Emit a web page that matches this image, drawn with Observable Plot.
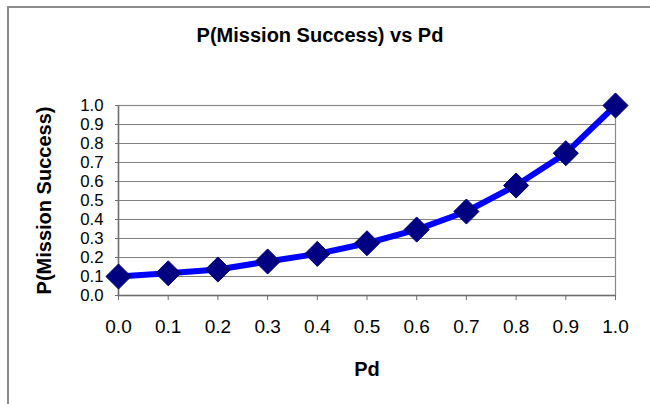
<!DOCTYPE html>
<html>
<head>
<meta charset="utf-8">
<script src="https://cdn.jsdelivr.net/npm/d3@7"></script>
<script src="https://cdn.jsdelivr.net/npm/@observablehq/plot@0.6"></script>
<style>
  html, body { margin: 0; padding: 0; background: #fff; }
  body { width: 650px; height: 404px; position: relative; overflow: hidden; font-family: "Liberation Sans", Arial, sans-serif; }
  #frame { position: absolute; left: 7px; top: 6px; width: 800px; height: 600px; border-left: 2px solid #8c8c8c; border-top: 2px solid #8c8c8c; }
  #title { position: absolute; left: 0; top: 25px; width: 640px; text-align: center; font-size: 20px; line-height: 20px; font-weight: bold; color: #000; }
  #chart { position: absolute; left: 0; top: 60px; }
</style>
</head>
<body>
<div id="frame"></div>
<div id="title">P(Mission Success) vs Pd</div>
<div id="chart"></div>
<script>
const pd = [0.0, 0.1, 0.2, 0.3, 0.4, 0.5, 0.6, 0.7, 0.8, 0.9, 1.0];
const pSuccess = [0.10, 0.117, 0.137, 0.179, 0.219, 0.275, 0.347, 0.442, 0.579, 0.749, 1.0];
const xTicks = [0.0, 0.1, 0.2, 0.3, 0.4, 0.5, 0.6, 0.7, 0.8, 0.9, 1.0];
const yTicks = [0.0, 0.1, 0.2, 0.3, 0.4, 0.5, 0.6, 0.7, 0.8, 0.9, 1.0];
const xLabel = "Pd";
const yLabel = "P(Mission Success)";

const data = pd.map((x, i) => ({x, y: pSuccess[i]}));
const fmt = d3.format(".1f");

const chart = Plot.plot({
  width: 650,
  height: 344,
  marginLeft: 118,
  marginRight: 35,
  marginTop: 45,
  marginBottom: 109,
  style: {fontFamily: "'Liberation Sans', Arial, sans-serif", background: "transparent", color: "#000", overflow: "visible"},
  x: {domain: [0, 1]},
  y: {domain: [0, 1]},
  marks: [
    Plot.gridY(yTicks, {stroke: "#808080", strokeOpacity: 1, strokeWidth: 1}),
    Plot.frame({stroke: "#8a8a8a", strokeWidth: 1.2}),
    Plot.ruleX([0], {stroke: "#6e6e6e", strokeWidth: 1.5}),
    Plot.ruleY([0], {stroke: "#6e6e6e", strokeWidth: 1.5}),
    Plot.axisX({ticks: xTicks, tickFormat: fmt, tickSize: 5, tickPadding: 19, fontSize: 19, stroke: "#6e6e6e", label: null}),
    Plot.axisY({ticks: yTicks, tickFormat: fmt, tickSize: 3, tickPadding: 12, fontSize: 16.8, stroke: "#6e6e6e", label: null}),
    Plot.line(data, {x: "x", y: "y", stroke: "#0000ff", strokeWidth: 6, strokeLinejoin: "round"}),
    Plot.dot(data, {x: "x", y: "y", symbol: "diamond2", r: 11.3, fill: "#000080", stroke: "#000080", strokeWidth: 1}),
    Plot.text([xLabel], {frameAnchor: "bottom", text: d => d, dy: 74, textAnchor: "middle", lineAnchor: "middle", fontSize: 20, fontWeight: "bold", fill: "#000"}),
    Plot.text([yLabel], {frameAnchor: "left", text: d => d, dx: -74, rotate: -90, textAnchor: "middle", lineAnchor: "middle", fontSize: 20, fontWeight: "bold", fill: "#000"})
  ]
});
document.getElementById("chart").appendChild(chart);
</script>
</body>
</html>
